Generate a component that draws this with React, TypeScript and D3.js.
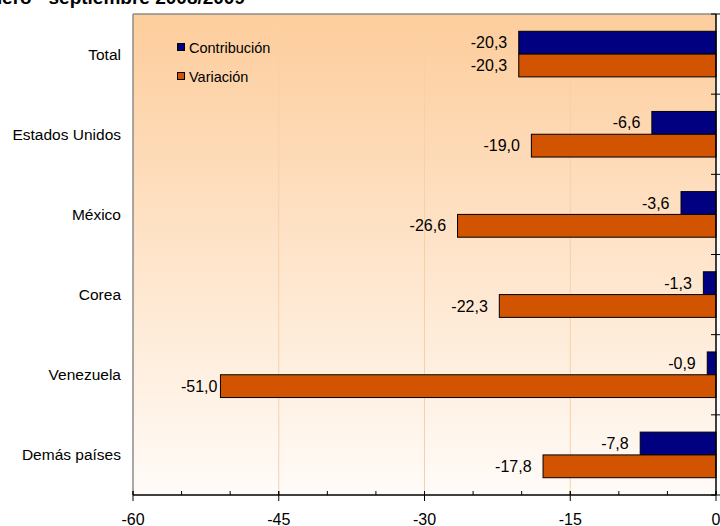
import React from "react";
import * as d3 from "d3";

const categories = ["Total", "Estados Unidos", "México", "Corea", "Venezuela", "Demás países"];
const contribucion = [-20.3, -6.6, -3.6, -1.3, -0.9, -7.8];
const variacion = [-20.3, -19.0, -26.6, -22.3, -51.0, -17.8];
const xTicks = [-60, -45, -30, -15, 0];
const minorTicks = d3.range(-60, 1, 5);
const seriesNames = ["Contribución", "Variación"];
const colors = ["#000080", "#D35400"];

const W = 720, H = 526;
const left = 133, right = 716, top = 14, bottom = 495;
const barH = 22.8;

const fmt = (v: number) => v.toFixed(1).replace(".", ",");

export default function App() {
  const x = d3.scaleLinear().domain([-60, 0]).range([left, right]);
  const y = d3.scaleBand<string>().domain(categories).range([top, bottom]);
  const bw = y.bandwidth();
  const font = "'Liberation Sans', Arial, sans-serif";
  const boundaries = d3.range(categories.length + 1).map((i) => top + i * bw);

  const labelGap = (v: number) => (v < -45 ? 3 : 11.5);

  return (
    <svg width={W} height={H} style={{ position: "fixed", left: 0, top: 0, background: "#fff" }} fontFamily={font}>
      <defs>
        <linearGradient id="bg" x1="0" y1="0" x2="0" y2="1">
          <stop offset="0" stopColor="#FDCD9C" />
          <stop offset="1" stopColor="#FFFBF8" />
        </linearGradient>
      </defs>
      <text x={245} y={3.5} textAnchor="end" fontWeight="bold" fontSize={19} fill="#000">
        Enero - septiembre 2008/2009
      </text>
      <rect x={left} y={top} width={right - left} height={bottom - top} fill="url(#bg)" />
      {xTicks.filter((t) => t !== -60 && t !== 0).map((t) => (
        <line key={"g" + t} x1={x(t)} x2={x(t)} y1={top} y2={bottom} stroke="#F8D0A6" strokeWidth={1} />
      ))}
      <line x1={left} x2={left} y1={top} y2={bottom} stroke="#8c8c8c" strokeWidth={1.5} />
      <line x1={left} x2={right} y1={top} y2={top} stroke="#8c8c8c" strokeWidth={1.5} />
      {categories.map((c, i) => {
        const y0 = y(c)! + bw / 2;
        return (
          <g key={c}>
            <rect x={x(contribucion[i])} y={y0 - barH} width={x(0) - x(contribucion[i])} height={barH}
              fill={colors[0]} stroke="#000" strokeWidth={1} />
            <rect x={x(variacion[i])} y={y0} width={x(0) - x(variacion[i])} height={barH}
              fill={colors[1]} stroke="#000" strokeWidth={1} />
            <text x={x(contribucion[i]) - labelGap(contribucion[i])} y={y0 - barH / 2} dy="0.35em"
              textAnchor="end" fontSize={16} fill="#000">{fmt(contribucion[i])}</text>
            <text x={x(variacion[i]) - labelGap(variacion[i])} y={y0 + barH / 2} dy="0.35em"
              textAnchor="end" fontSize={16} fill="#000">{fmt(variacion[i])}</text>
            <text x={121} y={y0} dy="0.35em" textAnchor="end" fontSize={15.5} fill="#000">{c}</text>
          </g>
        );
      })}
      {/* y axis */}
      <line x1={right} x2={right} y1={top} y2={bottom} stroke="#000" strokeWidth={1.5} />
      {boundaries.map((b, i) => (
        <line key={"yt" + i} x1={right - 5} x2={right + 4} y1={b} y2={b} stroke="#000" strokeWidth={1} />
      ))}
      {/* x axis */}
      <line x1={left} x2={right} y1={bottom} y2={bottom} stroke="#000" strokeWidth={1.5} />
      {minorTicks.map((t) => (
        <line key={"m" + t} x1={x(t)} x2={x(t)} y1={bottom - 4} y2={bottom} stroke="#000" strokeWidth={1} />
      ))}
      {xTicks.map((t) => (
        <g key={"t" + t}>
          <line x1={x(t)} x2={x(t)} y1={bottom - 4} y2={bottom + 6} stroke="#000" strokeWidth={1} />
          <text x={x(t)} y={525} textAnchor="middle" fontSize={16} fill="#000">{t}</text>
        </g>
      ))}
      {/* legend */}
      {seriesNames.map((s, i) => (
        <g key={s}>
          <rect x={177.5} y={43.5 + i * 29} width={7} height={7} fill={colors[i]} stroke="#000" strokeWidth={1} />
          <text x={189} y={47.5 + i * 29} dy="0.35em" fontSize={14.5} fill="#000">{s}</text>
        </g>
      ))}
    </svg>
  );
}
